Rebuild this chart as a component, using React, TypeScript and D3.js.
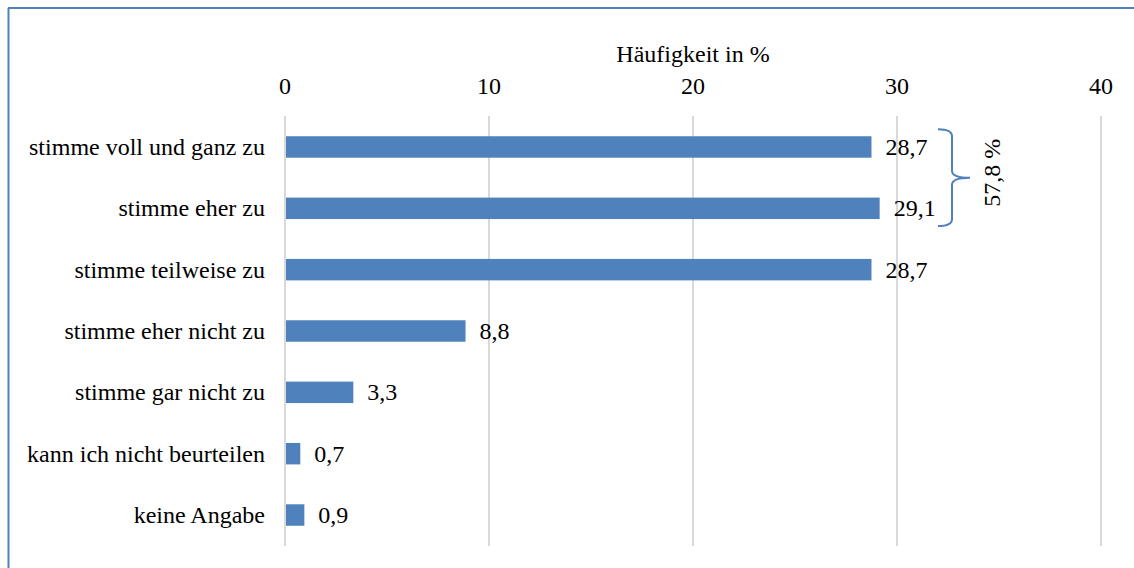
import React from "react";
import * as d3 from "d3";

const categories = [
  "stimme voll und ganz zu",
  "stimme eher zu",
  "stimme teilweise zu",
  "stimme eher nicht zu",
  "stimme gar nicht zu",
  "kann ich nicht beurteilen",
  "keine Angabe",
];
const values = [28.7, 29.1, 28.7, 8.8, 3.3, 0.7, 0.9];
const valueLabels = ["28,7", "29,1", "28,7", "8,8", "3,3", "0,7", "0,9"];
const ticks = [0, 10, 20, 30, 40];
const axisTitle = "Häufigkeit in %";
const bracketLabel = "57,8 %";

const W = 1134;
const H = 568;
const FONT = "'Liberation Serif', 'Times New Roman', serif";
const BLUE = "#4f81bd";
const FS = 24;

export default function App() {
  const x = d3.scaleLinear().domain([0, 40]).range([285, 1101]);
  const y = d3
    .scaleBand<string>()
    .domain(categories)
    .range([116, 546])
    .paddingInner(0.65)
    .paddingOuter(0.33);
  const bw = y.bandwidth();

  const y0 = y(categories[0])!;
  const y1 = y(categories[1])! + bw;
  const bx = 938;
  const bRight = 952;
  const tipX = 970;
  const mid = (y(categories[0])! + bw / 2 + y(categories[1])! + bw / 2) / 2;
  const r = 7;
  const bracket = `M${bx},${y0 - 7} Q${bRight},${y0 - 7} ${bRight},${y0 - 7 + r} L${bRight},${mid - r} Q${bRight},${mid} ${tipX},${mid} Q${bRight},${mid} ${bRight},${mid + r} L${bRight},${y1 + 7 - r} Q${bRight},${y1 + 7} ${bx},${y1 + 7}`;

  return (
    <svg
      width={W}
      height={H}
      style={{ position: "absolute", left: 0, top: 0, background: "#fff" }}
      fontFamily={FONT}
    >
      <rect x={0} y={0} width={W} height={H} fill="#fff" />
      <line x1={8.5} y1={8} x2={8.5} y2={H} stroke={BLUE} strokeWidth={2} />
      <line x1={8} y1={8} x2={W} y2={8} stroke={BLUE} strokeWidth={2} />

      <text x={693} y={62} textAnchor="middle" fontSize={FS} fill="#000">
        {axisTitle}
      </text>
      {ticks.map((t) => (
        <g key={t}>
          <text x={x(t)} y={94} textAnchor="middle" fontSize={FS} fill="#000">
            {t}
          </text>
          <line x1={x(t)} x2={x(t)} y1={116} y2={546} stroke="#d9d9d9" strokeWidth={2} />
        </g>
      ))}

      {categories.map((c, i) => {
        const yy = y(c)!;
        return (
          <g key={c}>
            <rect x={x(0) + 1} y={yy} width={x(values[i]) - x(0)} height={bw} fill={BLUE} />
            <text
              x={265}
              y={yy + bw / 2}
              dy="0.33em"
              textAnchor="end"
              fontSize={FS}
              fill="#000"
            >
              {c}
            </text>
            <text
              x={x(values[i]) + 15}
              y={yy + bw / 2}
              dy="0.33em"
              fontSize={FS}
              fill="#000"
            >
              {valueLabels[i]}
            </text>
          </g>
        );
      })}

      <path d={bracket} fill="none" stroke={BLUE} strokeWidth={2} />
      <text
        transform={`translate(1000,${mid - 5}) rotate(-90)`}
        textAnchor="middle"
        fontSize={FS}
        fill="#000"
      >
        {bracketLabel}
      </text>
    </svg>
  );
}
